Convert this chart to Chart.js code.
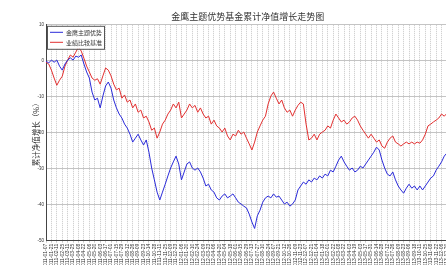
<!DOCTYPE html>
<html>
<head>
<meta charset="utf-8">
<script src="https://cdn.jsdelivr.net/npm/chart.js@4"></script>
<style>
  html, body { margin: 0; padding: 0; background: #fff; overflow: hidden; }
  #wrap { width: 446px; height: 265px; overflow: hidden; }
</style>
</head>
<body>
<div id="wrap"><canvas id="navChart" width="454" height="272"></canvas></div>
<script>
// weekly dates on the x axis
const dates = [
  '2011-01-07','2011-01-14','2011-01-21','2011-01-28','2011-02-11','2011-02-18','2011-02-25','2011-03-04','2011-03-11','2011-03-18',
  '2011-03-25','2011-04-01','2011-04-08','2011-04-15','2011-04-22','2011-04-29','2011-05-06','2011-05-13','2011-05-20','2011-05-27',
  '2011-06-03','2011-06-10','2011-06-17','2011-06-24','2011-07-01','2011-07-08','2011-07-15','2011-07-22','2011-07-29','2011-08-05',
  '2011-08-12','2011-08-19','2011-08-26','2011-09-02','2011-09-09','2011-09-16','2011-09-23','2011-09-30','2011-10-14','2011-10-21',
  '2011-10-28','2011-11-04','2011-11-11','2011-11-18','2011-11-25','2011-12-02','2011-12-09','2011-12-16','2011-12-23','2011-12-30',
  '2012-01-06','2012-01-13','2012-01-20','2012-02-03','2012-02-10','2012-02-17','2012-02-24','2012-03-02','2012-03-09','2012-03-16',
  '2012-03-23','2012-03-30','2012-04-06','2012-04-13','2012-04-20','2012-04-27','2012-05-04','2012-05-11','2012-05-18','2012-05-25',
  '2012-06-01','2012-06-08','2012-06-15','2012-06-21','2012-06-29','2012-07-06','2012-07-13','2012-07-20','2012-07-27','2012-08-03',
  '2012-08-10','2012-08-17','2012-08-24','2012-08-31','2012-09-07','2012-09-14','2012-09-21','2012-09-28','2012-10-12','2012-10-19',
  '2012-10-26','2012-11-02','2012-11-09','2012-11-16','2012-11-23','2012-11-30','2012-12-07','2012-12-14','2012-12-21','2012-12-28',
  '2013-01-04','2013-01-11','2013-01-18','2013-01-25','2013-02-01','2013-02-08','2013-02-22','2013-03-01','2013-03-08','2013-03-15',
  '2013-03-22','2013-03-29','2013-04-03','2013-04-12','2013-04-19','2013-04-26','2013-05-03','2013-05-10','2013-05-17','2013-05-24',
  '2013-05-31','2013-06-07','2013-06-14','2013-06-21','2013-06-28','2013-07-05','2013-07-12','2013-07-19','2013-07-26','2013-08-02',
  '2013-08-09','2013-08-16','2013-08-23','2013-08-30','2013-09-06','2013-09-13','2013-09-18','2013-09-27','2013-10-11','2013-10-18',
  '2013-10-25','2013-11-01','2013-11-08','2013-11-15','2013-11-22','2013-11-29','2013-12-06','2013-12-13','2013-12-20','2013-12-27'
];

// 金鹰主题优势 cumulative NAV growth (%)
const fundGrowth = [
  -0.1,-0.6,0.2,-0.4,0.2,-1.5,-2.6,-0.9,0.2,0.8,
  0.2,1.3,1.0,1.6,-0.9,-3.1,-4.8,-8.7,-10.9,-10.4,
  -13.1,-9.8,-7.0,-5.9,-7.6,-10.9,-13.1,-14.8,-15.9,-17.6,
  -18.7,-20.4,-22.6,-21.5,-20.4,-22.0,-23.4,-22.0,-25.4,-29.8,
  -33.1,-36.5,-38.7,-36.5,-34.3,-32.0,-29.8,-28.1,-26.5,-28.7,
  -33.1,-30.9,-28.7,-28.1,-29.8,-30.4,-29.8,-30.9,-32.6,-34.8,
  -34.3,-35.9,-36.5,-38.1,-38.7,-37.6,-37.0,-38.1,-37.6,-37.0,
  -38.1,-39.3,-39.8,-40.4,-40.9,-42.6,-44.8,-46.6,-43.1,-41.5,
  -39.3,-38.1,-37.6,-38.1,-37.0,-37.9,-37.6,-38.7,-39.8,-39.3,
  -40.4,-39.8,-38.7,-35.9,-34.8,-33.7,-34.3,-33.1,-33.7,-32.6,
  -33.1,-32.0,-32.6,-31.5,-32.0,-30.4,-30.9,-29.3,-27.6,-26.5,
  -28.1,-29.3,-30.4,-29.8,-30.9,-30.4,-29.3,-29.8,-28.7,-27.6,
  -26.5,-25.4,-24.0,-24.8,-27.6,-29.8,-31.5,-32.0,-30.9,-33.1,
  -34.8,-35.9,-36.8,-35.4,-34.3,-35.4,-34.8,-35.9,-34.8,-35.9,
  -34.8,-33.7,-32.6,-32.0,-30.4,-29.3,-28.1,-26.5,-25.6,-26.5
];

// 业绩比较基准 cumulative growth (%)
const benchGrowth = [
  -0.4,-0.9,-2.6,-4.8,-6.8,-5.4,-4.3,-1.5,0.2,1.6,
  1.0,2.4,3.8,2.7,0.7,-1.5,-3.1,-4.8,-5.4,-5.0,
  -6.5,-4.2,-2.0,-2.6,-4.2,-6.5,-8.1,-7.6,-10.4,-9.5,
  -11.5,-10.9,-13.1,-12.0,-14.3,-13.7,-15.9,-15.4,-17.0,-19.3,
  -18.7,-21.5,-19.8,-17.6,-16.5,-14.8,-13.7,-12.0,-13.1,-11.5,
  -15.9,-14.8,-13.7,-12.0,-13.1,-12.4,-14.3,-13.1,-14.8,-15.9,
  -15.4,-17.6,-16.5,-18.1,-18.7,-19.8,-18.7,-20.9,-22.0,-20.4,
  -20.9,-19.3,-20.4,-19.8,-21.5,-23.1,-24.8,-22.6,-19.8,-18.1,
  -16.5,-15.4,-12.0,-9.8,-8.7,-10.4,-12.0,-10.9,-13.1,-14.3,
  -13.7,-15.4,-13.7,-12.4,-11.5,-12.0,-17.6,-22.0,-21.5,-20.4,
  -22.0,-20.4,-19.8,-19.3,-18.1,-18.7,-16.5,-14.8,-15.9,-17.0,
  -16.5,-17.6,-17.0,-15.9,-15.4,-16.5,-18.1,-19.3,-20.4,-21.5,
  -20.4,-21.5,-22.6,-22.0,-23.7,-24.3,-22.6,-21.5,-20.9,-22.6,
  -23.1,-23.7,-23.1,-22.6,-23.1,-22.6,-23.1,-22.6,-22.9,-22.0,
  -20.4,-18.1,-17.6,-17.0,-16.5,-15.9,-14.8,-15.4,-14.6,-15.0
];

const yTicks = [10, 0, -10, -20, -30, -40, -50];

const cjk = '"Noto Sans CJK SC", sans-serif';

// boxed legend in the top-left corner of the plot
const boxLegend = {
  id: 'boxLegend',
  afterDraw(chart) {
    const ctx = chart.ctx;
    const a = chart.chartArea;
    const x = a.left + 1, y = a.top + 1, w = 57, h = 23;
    ctx.save();
    ctx.fillStyle = '#fff';
    ctx.fillRect(x, y, w, h);
    ctx.strokeStyle = '#555';
    ctx.lineWidth = 1;
    ctx.strokeRect(x + 0.5, y + 0.5, w, h);
    ctx.font = '6px ' + cjk;
    ctx.textBaseline = 'middle';
    chart.data.datasets.forEach((ds, i) => {
      const ly = y + 6.5 + i * 10;
      ctx.strokeStyle = ds.borderColor;
      ctx.beginPath();
      ctx.moveTo(x + 3, ly);
      ctx.lineTo(x + 16, ly);
      ctx.stroke();
      ctx.fillStyle = '#333';
      ctx.fillText(ds.label, x + 19, ly);
    });
    ctx.restore();
  }
};

const ctx = document.getElementById('navChart').getContext('2d');

new Chart(ctx, {
  type: 'line',
  data: {
    labels: dates,
    datasets: [{
      label: '金鹰主题优势',
      data: fundGrowth,
      borderColor: '#2b2bd9',
      borderWidth: 1,
      pointRadius: 0,
      tension: 0
    }, {
      label: '业绩比较基准',
      data: benchGrowth,
      borderColor: '#e23030',
      borderWidth: 1,
      pointRadius: 0,
      tension: 0
    }]
  },
  options: {
    responsive: false,
    animation: false,
    layout: { padding: 0 },
    plugins: {
      legend: { display: false },
      tooltip: { enabled: false },
      title: {
        display: true,
        text: '金鹰主题优势基金累计净值增长走势图',
        fullSize: false,
        color: '#333',
        font: { family: cjk, size: 9, weight: 'normal' },
        padding: { top: 11, bottom: 3 }
      }
    },
    scales: {
      x: {
        afterFit: s => { s.height = 31.3; },
        grid: {
          color: '#c8c8c8',
          tickLength: 2
        },
        border: { color: '#444', dash: [1, 1] },
        ticks: {
          autoSkip: false,
          maxRotation: 90,
          minRotation: 90,
          padding: 1,
          color: '#333',
          font: { size: 5 },
          callback: (v, i) => (i % 2 ? null : dates[i])
        }
      },
      y: {
        min: -50,
        max: 10,
        afterFit: s => { s.width = 46; },
        afterBuildTicks: s => { s.ticks = yTicks.map(v => ({ value: v })); },
        grid: { color: '#c4c4c4', drawTicks: false },
        border: { color: '#444' },
        ticks: {
          color: '#333',
          padding: 2,
          font: { size: 4.5 }
        },
        title: {
          display: true,
          text: '累计净值增长（%）',
          color: '#333',
          font: { family: cjk, size: 7.5 },
          padding: { top: 32, bottom: 0 }
        }
      }
    }
  },
  plugins: [boxLegend]
});
</script>
</body>
</html>
